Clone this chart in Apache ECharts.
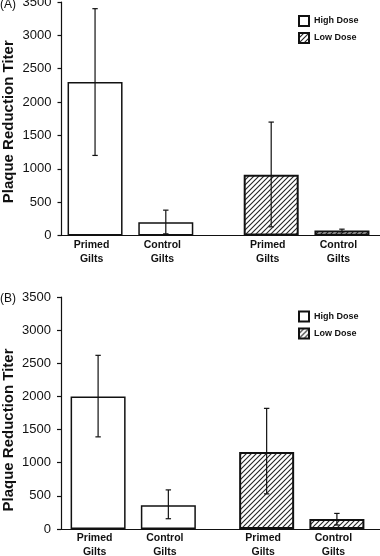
<!DOCTYPE html>
<html><head><meta charset="utf-8">
<script src="https://cdn.jsdelivr.net/npm/echarts@6/dist/echarts.min.js"></script>
<style>html,body{margin:0;padding:0;background:#fff}#c{width:380px;height:556px}</style>
</head><body><div id="c"></div>
<script>
// ---- data ----
const categories = ['Primed\nGilts', 'Control\nGilts', 'Primed\nGilts', 'Control\nGilts'];
const seriesNames = ['High Dose', 'Low Dose'];
const yMin = 0, yMax = 3500, yStep = 500;
const axisTitle = 'Plaque Reduction Titer';
const panelLabels = ['(A)', '(B)'];
// Panel A
const highA = [2300, 200, '-', '-'];
const lowA = ['-', '-', 910, 75];
const errHighA = [[0, 1200, 3400], [1, 25, 380]];
const errLowA = [[2, 130, 1700], [3, 55, 95]];
// Panel B
const highB = [2000, 360, '-', '-'];
const lowB = ['-', '-', 1160, 150];
const errHighB = [[0, 1390, 2620], [1, 155, 590]];
const errLowB = [[2, 530, 1820], [3, 60, 235]];

// ---- style ----
const FONT = '"Liberation Sans", Arial, Helvetica, sans-serif';
const INK = '#111';
const barW = 55;

function hatch() {
  const s = 5;
  const cv = document.createElement('canvas');
  cv.width = s; cv.height = s;
  const g = cv.getContext('2d');
  g.fillStyle = '#fff'; g.fillRect(0, 0, s, s);
  g.strokeStyle = '#222'; g.lineWidth = 1.1;
  for (const k of [-s, 0, s]) {
    g.beginPath(); g.moveTo(k - 1, s + 1); g.lineTo(k + s + 1, -1); g.stroke();
  }
  return cv;
}
const hatchFill = { image: hatch(), repeat: 'repeat' };

function errRender(shift) {
  return function (params, api) {
    const i = api.value(0);
    const lo = api.coord([i, api.value(1)]);
    const hi = api.coord([i, api.value(2)]);
    const x = lo[0] + shift, c = 2.7;
    const st = { stroke: INK, lineWidth: 1.2 };
    return { type: 'group', children: [
      { type: 'line', shape: { x1: x, y1: lo[1], x2: x, y2: hi[1] }, style: st },
      { type: 'line', shape: { x1: x - c, y1: hi[1], x2: x + c, y2: hi[1] }, style: st },
      { type: 'line', shape: { x1: x - c, y1: lo[1], x2: x + c, y2: lo[1] }, style: st }
    ]};
  };
}

const panels = [
  { high: highA, low: lowA, eh: errHighA, el: errLowA, top: 2, bottom: 320.5, axisX: 61.5, barLeft: 77, barWidth: 283, gap: -0.37, legendTop: 10, labDist: 3, titlePad: [0, 6, 0, 0], labelTop: -1 },
  { high: highB, low: lowB, eh: errHighB, el: errLowB, top: 297, bottom: 27, axisX: 61, barLeft: 77, barWidth: 281, gap: -0.49, legendTop: 305.5, labDist: 2, titlePad: [0, 34, 0, 0], labelTop: 293 }
];

const grid = [], xAxis = [], yAxis = [], series = [], legend = [], title = [];
panels.forEach((p, k) => {
  const gF = grid.length;
  grid.push({ left: p.axisX, right: 0, top: p.top, bottom: p.bottom, outerBoundsMode: 'none', containLabel: false });
  grid.push({ left: p.barLeft, width: p.barWidth, top: p.top, bottom: p.bottom, outerBoundsMode: 'none', containLabel: false });
  xAxis.push({ gridIndex: gF, type: 'value', min: 0, max: 1, axisLine: { show: true, lineStyle: { color: INK, width: 1.2 } }, axisTick: { show: false }, axisLabel: { show: false }, splitLine: { show: false } });
  xAxis.push({ gridIndex: gF + 1, type: 'category', data: categories, axisLine: { show: false }, axisTick: { show: false }, axisLabel: { show: false } });
  yAxis.push({ gridIndex: gF, type: 'value', min: yMin, max: yMax, interval: yStep,
    name: axisTitle, nameLocation: 'middle', nameRotate: 90, nameGap: 45, nameMoveOverlap: false,
    nameTextStyle: { fontFamily: FONT, fontSize: 15, fontWeight: 'bold', color: INK, padding: p.titlePad },
    axisLine: { show: true, lineStyle: { color: INK, width: 1.2 } },
    axisTick: { show: true, length: 4, lineStyle: { color: INK, width: 1.2 } },
    axisLabel: { fontFamily: FONT, fontSize: 13, color: INK, margin: 10, formatter: v => String(v) },
    splitLine: { show: false } });
  yAxis.push({ gridIndex: gF + 1, type: 'value', min: yMin, max: yMax, show: false });
  const gapPx = barW * p.gap;
  const shift = (barW + gapPx) / 2;
  const lab = { show: true, position: 'bottom', distance: p.labDist, formatter: '{b}', offset: [-3.5, 0],
    fontFamily: FONT, fontSize: 10.5, fontWeight: 'bold', color: INK, lineHeight: 14 };
  series.push({ name: seriesNames[0], type: 'bar', xAxisIndex: gF + 1, yAxisIndex: gF + 1, data: p.high,
    barWidth: barW, barGap: (p.gap * 100) + '%', clip: false,
    itemStyle: { color: '#fff', borderColor: INK, borderWidth: 1.5 }, label: lab, emphasis: { disabled: true } });
  series.push({ name: seriesNames[1], type: 'bar', xAxisIndex: gF + 1, yAxisIndex: gF + 1, data: p.low,
    barWidth: barW, barGap: (p.gap * 100) + '%', clip: false,
    itemStyle: { color: hatchFill, borderColor: INK, borderWidth: 2 }, label: lab, emphasis: { disabled: true } });
  series.push({ name: 'err-high-' + k, type: 'custom', xAxisIndex: gF + 1, yAxisIndex: gF + 1, data: p.eh, clip: false,
    encode: { x: 0, y: [1, 2] }, renderItem: errRender(-shift), z: 5, silent: true });
  series.push({ name: 'err-low-' + k, type: 'custom', xAxisIndex: gF + 1, yAxisIndex: gF + 1, data: p.el, clip: false,
    encode: { x: 0, y: [1, 2] }, renderItem: errRender(shift), z: 5, silent: true });
  legend.push({ data: seriesNames, orient: 'vertical', left: 293, top: p.legendTop, itemWidth: 10, itemHeight: 10, itemGap: 5,
    icon: 'rect', selectedMode: false, textStyle: { fontFamily: FONT, fontSize: 9, fontWeight: 'bold', color: INK } });
  title.push({ text: panelLabels[k], left: 0, top: p.labelTop, padding: 0, textStyle: { fontFamily: FONT, fontSize: 12, fontWeight: 'normal', color: INK } });
});

const chart = echarts.init(document.getElementById('c'), null, { renderer: 'canvas' });
chart.setOption({ animation: false, backgroundColor: '#fff', title, grid, xAxis, yAxis, legend, series });
</script></body></html>
